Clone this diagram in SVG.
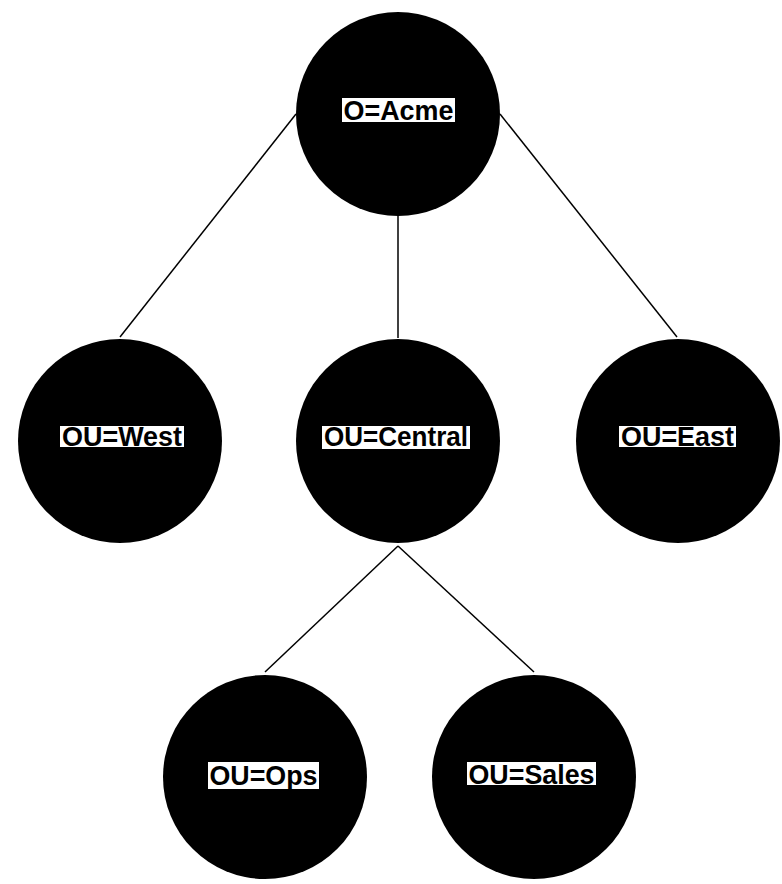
<svg xmlns="http://www.w3.org/2000/svg" width="782" height="884" viewBox="0 0 782 884">
<style>
.node circle{fill:#000}
.node rect{fill:#fff}
.node text{font-family:"Liberation Sans",Arial,sans-serif;font-size:27px;font-weight:bold;fill:#000;text-anchor:middle}
.edges line{stroke:#000;stroke-width:1.5}
</style>
<rect width="782" height="884" fill="#fff"/>
<g id="edges" class="edges">
<line x1="296" y1="114" x2="120" y2="337"/>
<line x1="398" y1="216" x2="398" y2="338"/>
<line x1="500" y1="114" x2="677" y2="337"/>
<line x1="398" y1="546" x2="265" y2="672"/>
<line x1="398" y1="546" x2="534" y2="672"/>
</g>
<g id="acme" class="node">
<circle cx="398" cy="114" r="102"/>
<rect x="342" y="98" width="113" height="24"/>
<text x="398.5" y="120" textLength="110" lengthAdjust="spacingAndGlyphs">O=Acme</text>
</g>
<g id="west" class="node">
<circle cx="120" cy="441" r="102"/>
<rect x="60" y="426" width="124" height="21"/>
<text x="122" y="446" textLength="120" lengthAdjust="spacingAndGlyphs">OU=West</text>
</g>
<g id="central" class="node">
<circle cx="398" cy="441" r="102"/>
<rect x="322" y="426" width="148" height="23"/>
<text x="396" y="446" textLength="144" lengthAdjust="spacingAndGlyphs">OU=Central</text>
</g>
<g id="east" class="node">
<circle cx="678" cy="441" r="102"/>
<rect x="619" y="426" width="117" height="21"/>
<text x="677.5" y="446" textLength="113" lengthAdjust="spacingAndGlyphs">OU=East</text>
</g>
<g id="ops" class="node">
<circle cx="265" cy="777" r="102"/>
<rect x="208" y="762" width="111" height="27"/>
<text x="263.5" y="785" textLength="108" lengthAdjust="spacingAndGlyphs">OU=Ops</text>
</g>
<g id="sales" class="node">
<circle cx="534" cy="777" r="102"/>
<rect x="467" y="762" width="129" height="23"/>
<text x="531.5" y="784" textLength="126" lengthAdjust="spacingAndGlyphs">OU=Sales</text>
</g>
</svg>
